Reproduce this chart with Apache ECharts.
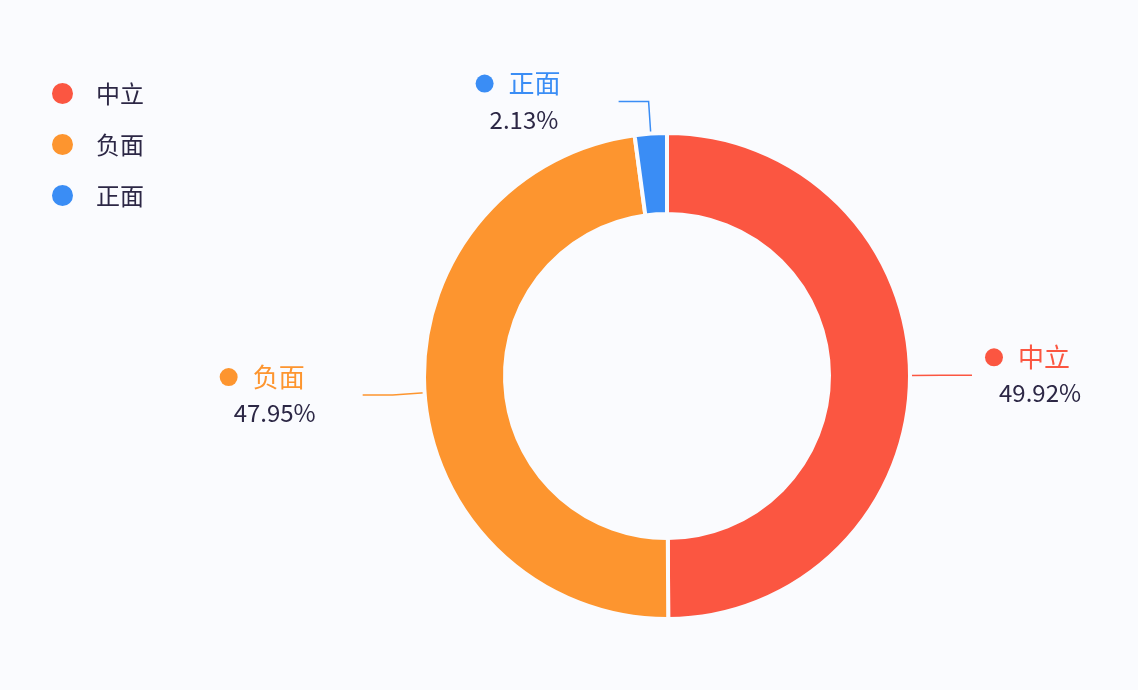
<!DOCTYPE html>
<html>
<head>
<meta charset="utf-8">
<script src="https://cdn.jsdelivr.net/npm/echarts@6/dist/echarts.min.js"></script>
<style>
html,body{margin:0;padding:0;background:#fafbfe;}
#c{width:1138px;height:690px;}
</style>
</head>
<body>
<div id="c"></div>
<script>
var categories = ['中立', '负面', '正面'];
var values = [49.92, 47.95, 2.13];
var colors = ['#fb5641', '#fd952f', '#3a8df5'];

var FONT = '"Noto Sans CJK SC", "Noto Sans", sans-serif';
var textDark = '#2c2745';

var data = categories.map(function (name, i) {
  return {
    name: name,
    value: values[i],
    itemStyle: { color: colors[i] },
    labelLine: { lineStyle: { color: colors[i], width: 1.5 } },
    label: {
      rich: {
        dot: { width: 18, height: 18, borderRadius: 9, backgroundColor: colors[i], align: 'left' },
        name: { fontSize: 26, color: colors[i], fontFamily: FONT, padding: [0, 0, 0, 15], align: 'left', lineHeight: 36 },
        per: { fontSize: 24, color: textDark, fontFamily: FONT, padding: [0, 0, 0, 14], align: 'left', lineHeight: 36 }
      }
    }
  };
});

var chart = echarts.init(document.getElementById('c'));
chart.setOption({
  backgroundColor: '#fafbfe',
  animation: false,
  color: colors,
  legend: {
    orient: 'vertical',
    left: 45,
    top: 76,
    icon: 'circle',
    itemWidth: 23,
    itemHeight: 23,
    itemGap: 26,
    data: categories,
    textStyle: { fontSize: 24, color: textDark, fontFamily: FONT, padding: [0, 0, 0, 17] }
  },
  series: [{
    type: 'pie',
    center: [667, 376],
    radius: [162, 243],
    startAngle: 90,
    clockwise: true,
    avoidLabelOverlap: false,
    emphasis: { disabled: true },
    itemStyle: { borderColor: '#fafbfe', borderWidth: 4 },
    label: {
      show: true,
      position: 'outside',
      width: 130,
      distanceToLabelLine: 13,
      fontFamily: FONT,
      formatter: function (p) {
        return '{dot|}{name|' + p.name + '}\n{per|' + p.value.toFixed(2) + '%}';
      }
    },
    labelLine: { show: true, length: 32, length2: 30 },
    data: data
  }]
});
</script>
</body>
</html>
